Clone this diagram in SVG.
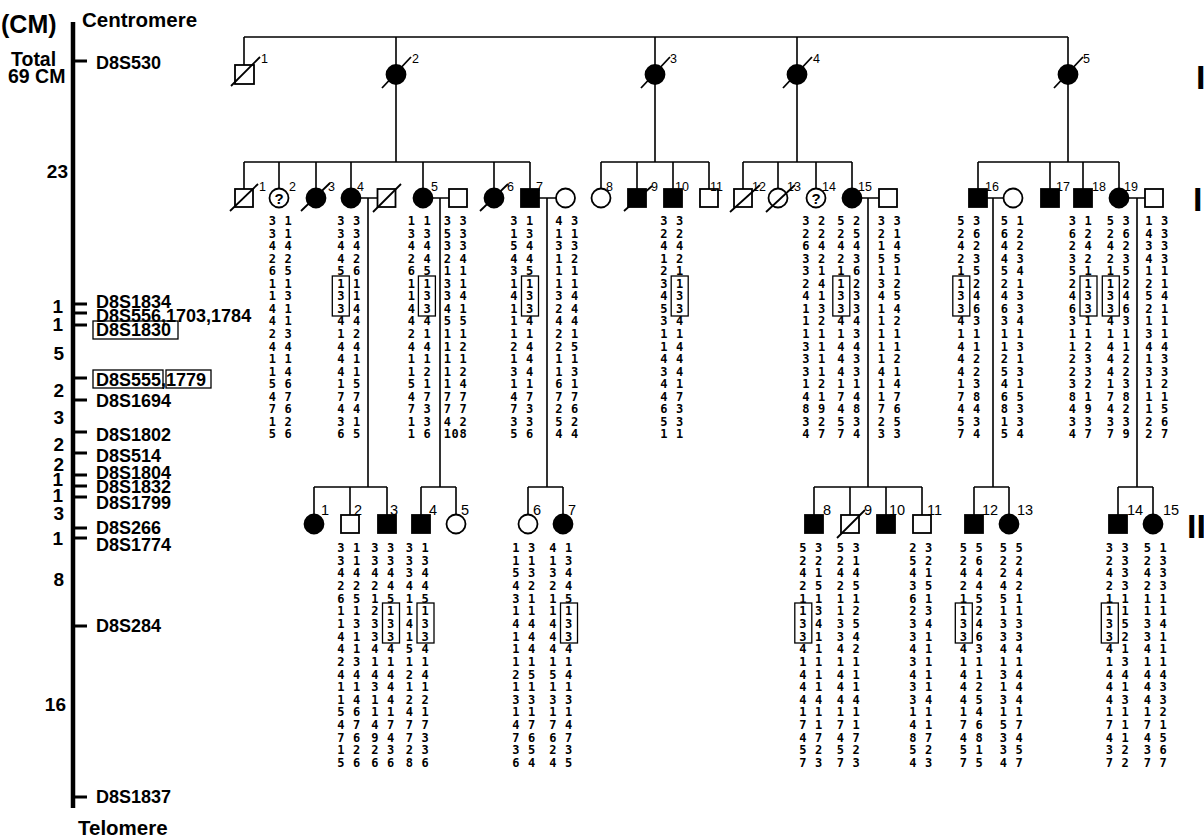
<svg xmlns="http://www.w3.org/2000/svg" width="1204" height="837" viewBox="0 0 1204 837">
<style>
.ln{stroke:#000;stroke-width:1.6;fill:none}
.o{fill:#fff;stroke:#000;stroke-width:1.8}
.f{fill:#000;stroke:#000;stroke-width:1.8}
.sl{stroke:#000;stroke-width:1.8}
.lb{font-family:"Liberation Sans",Arial,sans-serif;font-size:12.5px;fill:#000}
.l3{font-family:"Liberation Sans",Arial,sans-serif;font-size:14.5px;fill:#000}
.q{font-family:"Liberation Sans",Arial,sans-serif;font-size:15px;font-weight:bold;text-anchor:middle}
.h{font-family:"DejaVu Sans Mono",monospace;font-weight:bold;font-size:12px;letter-spacing:0.55px;text-anchor:middle;fill:#000}
.bx{fill:none;stroke:#000;stroke-width:1.3}
.ax{font-family:"Liberation Sans",Arial,sans-serif;font-weight:bold;font-size:18px;fill:#000}
.an{font-family:"Liberation Sans",Arial,sans-serif;font-weight:bold;font-size:19px;fill:#000;text-anchor:end}
.bg{font-family:"Liberation Sans",Arial,sans-serif;font-weight:bold;fill:#000}
.rn{font-family:"Liberation Sans",Arial,sans-serif;font-weight:bold;font-size:34px;fill:#000}
</style>
<rect width="1204" height="837" fill="#fff"/>

<g id="axis">
<line x1="73" y1="22" x2="73" y2="808" stroke="#000" stroke-width="4.5"/>
<path d="M73 61h14M73 304h14M73 313h14M73 325h14M73 378h14M73 400h14M73 432h14M73 453h14M73 475h14M73 486h14M73 497h14M73 528h14M73 538h14M73 626h14M73 797h14" stroke="#000" stroke-width="3"/>
<text class="bg" x="1" y="33" font-size="25">(CM)</text>
<text class="bg" x="82" y="27" font-size="20.5">Centromere</text>
<text class="bg" x="11" y="66" font-size="19.5">Total</text>
<text class="bg" x="8" y="83" font-size="19.5">69 CM</text>
<text class="bg" x="78" y="835" font-size="20.5">Telomere</text>
<text class="ax" x="96" y="69">D8S530</text>
<text class="ax" x="96" y="308">D8S1834</text>
<text class="ax" x="96" y="322">D8S556,1703,1784</text>
<text class="ax" x="96" y="336">D8S1830</text>
<rect class="bx" x="93" y="321" width="85" height="18"/>
<text class="ax" x="96" y="386">D8S555,1779</text>
<rect class="bx" x="93" y="370" width="70" height="18"/>
<rect class="bx" x="166" y="370" width="45" height="18"/>
<text class="ax" x="96" y="407">D8S1694</text>
<text class="ax" x="96" y="441">D8S1802</text>
<text class="ax" x="96" y="462">D8S514</text>
<text class="ax" x="96" y="479">D8S1804</text>
<text class="ax" x="96" y="493">D8S1832</text>
<text class="ax" x="96" y="509">D8S1799</text>
<text class="ax" x="96" y="534">D8S266</text>
<text class="ax" x="96" y="551">D8S1774</text>
<text class="ax" x="96" y="632">D8S284</text>
<text class="ax" x="96" y="803">D8S1837</text>
<text class="an" x="68" y="178">23</text>
<text class="an" x="63" y="313">1</text>
<text class="an" x="63" y="331">1</text>
<text class="an" x="64" y="360">5</text>
<text class="an" x="64" y="397">2</text>
<text class="an" x="64" y="424">3</text>
<text class="an" x="64" y="451">2</text>
<text class="an" x="64" y="471">2</text>
<text class="an" x="63" y="486">1</text>
<text class="an" x="63" y="502">1</text>
<text class="an" x="64" y="520">3</text>
<text class="an" x="63" y="545">1</text>
<text class="an" x="64" y="586">8</text>
<text class="an" x="66" y="711">16</text>
</g>

<g id="generations">
<text class="rn" x="1196" y="89">I</text>
<text class="rn" x="1193" y="211">I</text>
<text class="rn" x="1187" y="538">II</text>
</g>

<g id="connectors" class="ln">
<path d="M244 37H1068M244 37V65M396 37V65M655 37V65M797 37V65M1068 37V65M396 84V162M655 84V162M797 84V162M1068 84V162"/>
<path d="M244 162H530M601 162H709M743 162H852M978 162H1119"/>
<path d="M244 162V189M279 162V189M316 162V189M351 162V189M423 162V189M494 162V189M530 162V189M601 162V189M637 162V189M673 162V189M709 162V189M743 162V189M778 162V189M816 162V189M852 162V189M978 162V189M1050 162V189M1083 162V189M1119 162V189"/>
<path d="M360.5 198H377.5M432.5 198H449M539 198H556M861.5 198H879M987 198H1003.5M1128.5 198H1145"/>
<path d="M368 198V487M440 198V487M547 198V487M868 198V487M993 198V487M1137 198V487"/>
<path d="M314 487H387M421 487H456M528 487H563M814 487H922M974 487H1009M1118 487H1153"/>
<path d="M314 487V515M350 487V515M387 487V515M421 487V515M456 487V515M528 487V515M563 487V515M814 487V515M850 487V515M886 487V515M922 487V515M974 487V515M1009 487V515M1118 487V515M1153 487V515"/>
</g>

<g id="I-1"><rect class="o" x="235" y="65" width="19" height="19"/><line class="sl" x1="231" y1="86" x2="260" y2="57"/><text class="lb" x="261" y="63">1</text></g>
<g id="I-2"><circle class="f" cx="396" cy="74.5" r="9.5"/><line class="sl" x1="382" y1="88" x2="411" y2="57"/><text class="lb" x="412" y="63">2</text></g>
<g id="I-3"><circle class="f" cx="655" cy="74.5" r="9.5"/><line class="sl" x1="641" y1="88" x2="670" y2="57"/><text class="lb" x="670" y="63">3</text></g>
<g id="I-4"><circle class="f" cx="797" cy="74.5" r="9.5"/><line class="sl" x1="783" y1="88" x2="812" y2="57"/><text class="lb" x="813" y="63">4</text></g>
<g id="I-5"><circle class="f" cx="1068" cy="74.5" r="9.5"/><line class="sl" x1="1054" y1="88" x2="1083" y2="57"/><text class="lb" x="1083" y="63">5</text></g>

<g id="II-1"><rect class="o" x="235" y="189" width="18" height="18"/><line class="sl" x1="230" y1="211" x2="258" y2="184"/><text class="lb" x="259" y="191">1</text></g>
<g id="II-2"><circle class="o" cx="279" cy="198" r="9.5"/><text class="q" x="279" y="203.5">?</text><text class="lb" x="289" y="191">2</text>
<text class="h" y="212.45"><tspan x="280.5" dy="12.55">3 1</tspan><tspan x="280.5" dy="12.55">3 1</tspan><tspan x="280.5" dy="12.55">4 4</tspan><tspan x="280.5" dy="12.55">2 2</tspan><tspan x="280.5" dy="12.55">6 5</tspan><tspan x="280.5" dy="12.55">1 1</tspan><tspan x="280.5" dy="12.55">1 3</tspan><tspan x="280.5" dy="12.55">4 1</tspan><tspan x="280.5" dy="12.55">4 1</tspan><tspan x="280.5" dy="12.55">2 3</tspan><tspan x="280.5" dy="12.55">4 4</tspan><tspan x="280.5" dy="12.55">1 1</tspan><tspan x="280.5" dy="12.55">1 4</tspan><tspan x="280.5" dy="12.55">5 6</tspan><tspan x="280.5" dy="12.55">4 7</tspan><tspan x="280.5" dy="12.55">7 6</tspan><tspan x="280.5" dy="12.55">1 2</tspan><tspan x="280.5" dy="12.55">5 6</tspan></text></g>
<g id="II-3"><circle class="f" cx="316" cy="198" r="9.5"/><line class="sl" x1="301" y1="211" x2="330" y2="183"/><text class="lb" x="328" y="191">3</text></g>
<g id="II-4"><circle class="f" cx="351" cy="198" r="9.5"/><text class="lb" x="357" y="191">4</text>
<text class="h" y="212.45"><tspan x="349" dy="12.55">3 3</tspan><tspan x="349" dy="12.55">3 3</tspan><tspan x="349" dy="12.55">4 4</tspan><tspan x="349" dy="12.55">4 2</tspan><tspan x="349" dy="12.55">5 6</tspan><tspan x="349" dy="12.55">1 1</tspan><tspan x="349" dy="12.55">3 1</tspan><tspan x="349" dy="12.55">3 4</tspan><tspan x="349" dy="12.55">4 4</tspan><tspan x="349" dy="12.55">1 2</tspan><tspan x="349" dy="12.55">4 4</tspan><tspan x="349" dy="12.55">4 1</tspan><tspan x="349" dy="12.55">4 1</tspan><tspan x="349" dy="12.55">1 5</tspan><tspan x="349" dy="12.55">7 7</tspan><tspan x="349" dy="12.55">4 4</tspan><tspan x="349" dy="12.55">3 1</tspan><tspan x="349" dy="12.55">6 5</tspan></text>
<rect class="bx" x="332.3" y="276" width="17" height="40"/></g>
<g id="II-4s"><rect class="o" x="377.5" y="189" width="18" height="18"/><line class="sl" x1="373" y1="212" x2="401" y2="184"/></g>
<g id="II-5"><circle class="f" cx="423" cy="198" r="9.5"/><text class="lb" x="431" y="191">5</text>
<text class="h" y="212.45"><tspan x="419.5" dy="12.55">1 1</tspan><tspan x="419.5" dy="12.55">3 3</tspan><tspan x="419.5" dy="12.55">4 4</tspan><tspan x="419.5" dy="12.55">2 4</tspan><tspan x="419.5" dy="12.55">6 5</tspan><tspan x="419.5" dy="12.55">1 1</tspan><tspan x="419.5" dy="12.55">1 3</tspan><tspan x="419.5" dy="12.55">4 3</tspan><tspan x="419.5" dy="12.55">4 4</tspan><tspan x="419.5" dy="12.55">2 1</tspan><tspan x="419.5" dy="12.55">4 4</tspan><tspan x="419.5" dy="12.55">1 1</tspan><tspan x="419.5" dy="12.55">1 2</tspan><tspan x="419.5" dy="12.55">5 1</tspan><tspan x="419.5" dy="12.55">4 7</tspan><tspan x="419.5" dy="12.55">7 3</tspan><tspan x="419.5" dy="12.55">1 3</tspan><tspan x="419.5" dy="12.55">1 6</tspan></text>
<rect class="bx" x="418.4" y="276" width="17" height="40"/></g>
<g id="II-5s"><rect class="o" x="449" y="189" width="18" height="18"/>
<text class="h" y="212.45"><tspan x="455.5" dy="12.55">3 3</tspan><tspan x="455.5" dy="12.55">5 3</tspan><tspan x="455.5" dy="12.55">3 3</tspan><tspan x="455.5" dy="12.55">2 4</tspan><tspan x="455.5" dy="12.55">1 1</tspan><tspan x="455.5" dy="12.55">3 1</tspan><tspan x="455.5" dy="12.55">3 4</tspan><tspan x="455.5" dy="12.55">4 1</tspan><tspan x="455.5" dy="12.55">5 5</tspan><tspan x="455.5" dy="12.55">1 1</tspan><tspan x="455.5" dy="12.55">1 2</tspan><tspan x="455.5" dy="12.55">1 1</tspan><tspan x="455.5" dy="12.55">1 2</tspan><tspan x="455.5" dy="12.55">1 4</tspan><tspan x="455.5" dy="12.55">7 7</tspan><tspan x="455.5" dy="12.55">7 7</tspan><tspan x="455.5" dy="12.55">4 2</tspan><tspan x="455.5" dy="12.55">108</tspan></text></g>
<g id="II-6"><circle class="f" cx="494" cy="198" r="9.5"/><line class="sl" x1="480" y1="211" x2="508" y2="184"/><text class="lb" x="507" y="191">6</text></g>
<g id="II-7"><rect class="f" x="521" y="189" width="18" height="18"/><text class="lb" x="536" y="191">7</text>
<text class="h" y="212.45"><tspan x="522" dy="12.55">3 1</tspan><tspan x="522" dy="12.55">1 3</tspan><tspan x="522" dy="12.55">5 4</tspan><tspan x="522" dy="12.55">4 4</tspan><tspan x="522" dy="12.55">3 5</tspan><tspan x="522" dy="12.55">1 1</tspan><tspan x="522" dy="12.55">4 3</tspan><tspan x="522" dy="12.55">1 3</tspan><tspan x="522" dy="12.55">1 4</tspan><tspan x="522" dy="12.55">1 1</tspan><tspan x="522" dy="12.55">2 4</tspan><tspan x="522" dy="12.55">1 4</tspan><tspan x="522" dy="12.55">3 4</tspan><tspan x="522" dy="12.55">1 1</tspan><tspan x="522" dy="12.55">4 7</tspan><tspan x="522" dy="12.55">7 3</tspan><tspan x="522" dy="12.55">3 3</tspan><tspan x="522" dy="12.55">5 6</tspan></text>
<rect class="bx" x="521.5" y="276" width="17" height="40"/></g>
<g id="II-7s"><circle class="o" cx="565.5" cy="198" r="9.5"/>
<text class="h" y="212.45"><tspan x="567" dy="12.55">4 3</tspan><tspan x="567" dy="12.55">1 1</tspan><tspan x="567" dy="12.55">3 3</tspan><tspan x="567" dy="12.55">1 2</tspan><tspan x="567" dy="12.55">1 1</tspan><tspan x="567" dy="12.55">1 1</tspan><tspan x="567" dy="12.55">3 4</tspan><tspan x="567" dy="12.55">2 4</tspan><tspan x="567" dy="12.55">4 4</tspan><tspan x="567" dy="12.55">2 1</tspan><tspan x="567" dy="12.55">2 5</tspan><tspan x="567" dy="12.55">1 1</tspan><tspan x="567" dy="12.55">1 3</tspan><tspan x="567" dy="12.55">6 1</tspan><tspan x="567" dy="12.55">7 7</tspan><tspan x="567" dy="12.55">2 6</tspan><tspan x="567" dy="12.55">5 2</tspan><tspan x="567" dy="12.55">4 4</tspan></text></g>
<g id="II-8"><circle class="o" cx="601" cy="198" r="9.5"/><text class="lb" x="606" y="191">8</text></g>
<g id="II-9"><rect class="f" x="628" y="189" width="18" height="18"/><line class="sl" x1="624" y1="211" x2="652" y2="186"/><text class="lb" x="651" y="191">9</text></g>
<g id="II-10"><rect class="f" x="664" y="189" width="18" height="18"/><text class="lb" x="675" y="191">10</text>
<text class="h" y="212.45"><tspan x="672" dy="12.55">3 3</tspan><tspan x="672" dy="12.55">2 2</tspan><tspan x="672" dy="12.55">4 4</tspan><tspan x="672" dy="12.55">1 2</tspan><tspan x="672" dy="12.55">2 1</tspan><tspan x="672" dy="12.55">3 1</tspan><tspan x="672" dy="12.55">4 3</tspan><tspan x="672" dy="12.55">5 3</tspan><tspan x="672" dy="12.55">3 4</tspan><tspan x="672" dy="12.55">1 1</tspan><tspan x="672" dy="12.55">1 4</tspan><tspan x="672" dy="12.55">4 4</tspan><tspan x="672" dy="12.55">3 4</tspan><tspan x="672" dy="12.55">4 1</tspan><tspan x="672" dy="12.55">4 7</tspan><tspan x="672" dy="12.55">6 3</tspan><tspan x="672" dy="12.55">5 3</tspan><tspan x="672" dy="12.55">1 1</tspan></text>
<rect class="bx" x="671.2" y="276" width="17" height="40"/></g>
<g id="II-11"><rect class="o" x="700" y="189" width="18" height="18"/><text class="lb" x="710" y="191">11</text></g>
<g id="II-12"><rect class="o" x="734" y="189" width="18" height="18"/><line class="sl" x1="730" y1="212" x2="760" y2="185"/><text class="lb" x="752" y="191">12</text></g>
<g id="II-13"><circle class="o" cx="778" cy="198" r="9.5"/><line class="sl" x1="766" y1="212" x2="795" y2="185"/><text class="lb" x="787" y="191">13</text></g>
<g id="II-14"><circle class="o" cx="816" cy="198" r="9.5"/><text class="q" x="816" y="203.5">?</text><text class="lb" x="822" y="191">14</text>
<text class="h" y="212.45"><tspan x="814" dy="12.55">3 2</tspan><tspan x="814" dy="12.55">2 2</tspan><tspan x="814" dy="12.55">6 4</tspan><tspan x="814" dy="12.55">3 2</tspan><tspan x="814" dy="12.55">3 1</tspan><tspan x="814" dy="12.55">2 4</tspan><tspan x="814" dy="12.55">4 1</tspan><tspan x="814" dy="12.55">1 3</tspan><tspan x="814" dy="12.55">1 2</tspan><tspan x="814" dy="12.55">1 1</tspan><tspan x="814" dy="12.55">3 1</tspan><tspan x="814" dy="12.55">3 1</tspan><tspan x="814" dy="12.55">3 1</tspan><tspan x="814" dy="12.55">1 2</tspan><tspan x="814" dy="12.55">4 1</tspan><tspan x="814" dy="12.55">8 9</tspan><tspan x="814" dy="12.55">3 2</tspan><tspan x="814" dy="12.55">4 7</tspan></text></g>
<g id="II-15"><circle class="f" cx="852" cy="198" r="9.5"/><text class="lb" x="858" y="191">15</text>
<text class="h" y="212.45"><tspan x="849" dy="12.55">5 2</tspan><tspan x="849" dy="12.55">2 5</tspan><tspan x="849" dy="12.55">4 4</tspan><tspan x="849" dy="12.55">2 3</tspan><tspan x="849" dy="12.55">1 6</tspan><tspan x="849" dy="12.55">1 2</tspan><tspan x="849" dy="12.55">3 3</tspan><tspan x="849" dy="12.55">3 3</tspan><tspan x="849" dy="12.55">4 4</tspan><tspan x="849" dy="12.55">1 3</tspan><tspan x="849" dy="12.55">4 4</tspan><tspan x="849" dy="12.55">4 3</tspan><tspan x="849" dy="12.55">4 3</tspan><tspan x="849" dy="12.55">1 1</tspan><tspan x="849" dy="12.55">7 4</tspan><tspan x="849" dy="12.55">4 8</tspan><tspan x="849" dy="12.55">5 3</tspan><tspan x="849" dy="12.55">7 4</tspan></text>
<rect class="bx" x="832.8" y="276" width="17" height="40"/></g>
<g id="II-15s"><rect class="o" x="879" y="189" width="18" height="18"/>
<text class="h" y="212.45"><tspan x="889.5" dy="12.55">3 3</tspan><tspan x="889.5" dy="12.55">2 1</tspan><tspan x="889.5" dy="12.55">1 4</tspan><tspan x="889.5" dy="12.55">5 5</tspan><tspan x="889.5" dy="12.55">1 1</tspan><tspan x="889.5" dy="12.55">3 2</tspan><tspan x="889.5" dy="12.55">4 5</tspan><tspan x="889.5" dy="12.55">1 4</tspan><tspan x="889.5" dy="12.55">1 2</tspan><tspan x="889.5" dy="12.55">1 1</tspan><tspan x="889.5" dy="12.55">1 1</tspan><tspan x="889.5" dy="12.55">1 2</tspan><tspan x="889.5" dy="12.55">4 1</tspan><tspan x="889.5" dy="12.55">1 4</tspan><tspan x="889.5" dy="12.55">1 7</tspan><tspan x="889.5" dy="12.55">7 6</tspan><tspan x="889.5" dy="12.55">2 5</tspan><tspan x="889.5" dy="12.55">3 3</tspan></text></g>
<g id="II-16"><rect class="f" x="969" y="189" width="18" height="18"/><text class="lb" x="985" y="191">16</text>
<text class="h" y="212.45"><tspan x="969" dy="12.55">5 3</tspan><tspan x="969" dy="12.55">2 6</tspan><tspan x="969" dy="12.55">4 2</tspan><tspan x="969" dy="12.55">2 3</tspan><tspan x="969" dy="12.55">1 5</tspan><tspan x="969" dy="12.55">1 2</tspan><tspan x="969" dy="12.55">3 4</tspan><tspan x="969" dy="12.55">3 6</tspan><tspan x="969" dy="12.55">4 3</tspan><tspan x="969" dy="12.55">1 1</tspan><tspan x="969" dy="12.55">4 1</tspan><tspan x="969" dy="12.55">4 2</tspan><tspan x="969" dy="12.55">4 2</tspan><tspan x="969" dy="12.55">1 3</tspan><tspan x="969" dy="12.55">7 8</tspan><tspan x="969" dy="12.55">4 4</tspan><tspan x="969" dy="12.55">5 3</tspan><tspan x="969" dy="12.55">7 4</tspan></text>
<rect class="bx" x="952.8" y="276" width="17" height="40"/></g>
<g id="II-16s"><circle class="o" cx="1013" cy="198" r="9.5"/>
<text class="h" y="212.45"><tspan x="1012.5" dy="12.55">5 1</tspan><tspan x="1012.5" dy="12.55">6 2</tspan><tspan x="1012.5" dy="12.55">4 2</tspan><tspan x="1012.5" dy="12.55">4 3</tspan><tspan x="1012.5" dy="12.55">5 4</tspan><tspan x="1012.5" dy="12.55">2 1</tspan><tspan x="1012.5" dy="12.55">4 3</tspan><tspan x="1012.5" dy="12.55">6 3</tspan><tspan x="1012.5" dy="12.55">3 4</tspan><tspan x="1012.5" dy="12.55">1 1</tspan><tspan x="1012.5" dy="12.55">1 3</tspan><tspan x="1012.5" dy="12.55">2 1</tspan><tspan x="1012.5" dy="12.55">5 3</tspan><tspan x="1012.5" dy="12.55">4 1</tspan><tspan x="1012.5" dy="12.55">6 5</tspan><tspan x="1012.5" dy="12.55">8 3</tspan><tspan x="1012.5" dy="12.55">1 3</tspan><tspan x="1012.5" dy="12.55">5 4</tspan></text></g>
<g id="II-17"><rect class="f" x="1041" y="189" width="18" height="18"/><text class="lb" x="1056" y="191">17</text></g>
<g id="II-18"><rect class="f" x="1074" y="189" width="18" height="18"/><text class="lb" x="1092" y="191">18</text>
<text class="h" y="212.45"><tspan x="1080.5" dy="12.55">3 1</tspan><tspan x="1080.5" dy="12.55">6 2</tspan><tspan x="1080.5" dy="12.55">2 4</tspan><tspan x="1080.5" dy="12.55">3 2</tspan><tspan x="1080.5" dy="12.55">5 1</tspan><tspan x="1080.5" dy="12.55">2 1</tspan><tspan x="1080.5" dy="12.55">4 3</tspan><tspan x="1080.5" dy="12.55">6 3</tspan><tspan x="1080.5" dy="12.55">3 1</tspan><tspan x="1080.5" dy="12.55">1 1</tspan><tspan x="1080.5" dy="12.55">1 2</tspan><tspan x="1080.5" dy="12.55">2 3</tspan><tspan x="1080.5" dy="12.55">2 3</tspan><tspan x="1080.5" dy="12.55">3 2</tspan><tspan x="1080.5" dy="12.55">8 1</tspan><tspan x="1080.5" dy="12.55">4 9</tspan><tspan x="1080.5" dy="12.55">3 3</tspan><tspan x="1080.5" dy="12.55">4 7</tspan></text>
<rect class="bx" x="1080" y="276" width="17" height="40"/></g>
<g id="II-19"><circle class="f" cx="1119" cy="198" r="9.5"/><text class="lb" x="1124" y="191">19</text>
<text class="h" y="212.45"><tspan x="1118.5" dy="12.55">5 3</tspan><tspan x="1118.5" dy="12.55">2 6</tspan><tspan x="1118.5" dy="12.55">4 2</tspan><tspan x="1118.5" dy="12.55">2 3</tspan><tspan x="1118.5" dy="12.55">1 5</tspan><tspan x="1118.5" dy="12.55">1 2</tspan><tspan x="1118.5" dy="12.55">3 4</tspan><tspan x="1118.5" dy="12.55">3 6</tspan><tspan x="1118.5" dy="12.55">4 3</tspan><tspan x="1118.5" dy="12.55">1 1</tspan><tspan x="1118.5" dy="12.55">4 1</tspan><tspan x="1118.5" dy="12.55">4 2</tspan><tspan x="1118.5" dy="12.55">4 2</tspan><tspan x="1118.5" dy="12.55">1 3</tspan><tspan x="1118.5" dy="12.55">7 8</tspan><tspan x="1118.5" dy="12.55">4 2</tspan><tspan x="1118.5" dy="12.55">3 3</tspan><tspan x="1118.5" dy="12.55">7 9</tspan></text>
<rect class="bx" x="1102.3" y="276" width="17" height="40"/></g>
<g id="II-19s"><rect class="o" x="1145" y="189" width="18" height="18"/>
<text class="h" y="212.45"><tspan x="1157" dy="12.55">1 3</tspan><tspan x="1157" dy="12.55">4 3</tspan><tspan x="1157" dy="12.55">3 3</tspan><tspan x="1157" dy="12.55">4 3</tspan><tspan x="1157" dy="12.55">1 1</tspan><tspan x="1157" dy="12.55">2 1</tspan><tspan x="1157" dy="12.55">5 4</tspan><tspan x="1157" dy="12.55">2 1</tspan><tspan x="1157" dy="12.55">1 1</tspan><tspan x="1157" dy="12.55">3 1</tspan><tspan x="1157" dy="12.55">4 4</tspan><tspan x="1157" dy="12.55">1 3</tspan><tspan x="1157" dy="12.55">3 3</tspan><tspan x="1157" dy="12.55">1 2</tspan><tspan x="1157" dy="12.55">1 1</tspan><tspan x="1157" dy="12.55">1 5</tspan><tspan x="1157" dy="12.55">2 6</tspan><tspan x="1157" dy="12.55">2 7</tspan></text></g>

<g id="III-1"><circle class="f" cx="314" cy="524" r="9.5"/><text class="l3" x="321" y="515">1</text></g>
<g id="III-2"><rect class="o" x="341" y="515" width="18" height="18"/><text class="l3" x="354" y="515">2</text>
<text class="h" y="539.35"><tspan x="349" dy="12.65">3 1</tspan><tspan x="349" dy="12.65">3 1</tspan><tspan x="349" dy="12.65">4 4</tspan><tspan x="349" dy="12.65">2 2</tspan><tspan x="349" dy="12.65">6 5</tspan><tspan x="349" dy="12.65">1 1</tspan><tspan x="349" dy="12.65">1 3</tspan><tspan x="349" dy="12.65">4 1</tspan><tspan x="349" dy="12.65">4 1</tspan><tspan x="349" dy="12.65">2 3</tspan><tspan x="349" dy="12.65">4 4</tspan><tspan x="349" dy="12.65">1 1</tspan><tspan x="349" dy="12.65">1 4</tspan><tspan x="349" dy="12.65">5 6</tspan><tspan x="349" dy="12.65">4 7</tspan><tspan x="349" dy="12.65">7 6</tspan><tspan x="349" dy="12.65">1 2</tspan><tspan x="349" dy="12.65">5 6</tspan></text></g>
<g id="III-3"><rect class="f" x="378" y="515" width="18" height="18"/><text class="l3" x="390" y="515">3</text>
<text class="h" y="539.35"><tspan x="383" dy="12.65">3 3</tspan><tspan x="383" dy="12.65">3 3</tspan><tspan x="383" dy="12.65">4 4</tspan><tspan x="383" dy="12.65">2 4</tspan><tspan x="383" dy="12.65">1 5</tspan><tspan x="383" dy="12.65">2 1</tspan><tspan x="383" dy="12.65">3 3</tspan><tspan x="383" dy="12.65">3 3</tspan><tspan x="383" dy="12.65">4 4</tspan><tspan x="383" dy="12.65">1 1</tspan><tspan x="383" dy="12.65">4 4</tspan><tspan x="383" dy="12.65">3 4</tspan><tspan x="383" dy="12.65">1 4</tspan><tspan x="383" dy="12.65">1 1</tspan><tspan x="383" dy="12.65">4 7</tspan><tspan x="383" dy="12.65">9 4</tspan><tspan x="383" dy="12.65">2 3</tspan><tspan x="383" dy="12.65">6 6</tspan></text>
<rect class="bx" x="382.5" y="603" width="17" height="40"/></g>
<g id="III-4"><rect class="f" x="412" y="515" width="18" height="18"/><text class="l3" x="429" y="515">4</text>
<text class="h" y="539.35"><tspan x="417.5" dy="12.65">3 1</tspan><tspan x="417.5" dy="12.65">3 3</tspan><tspan x="417.5" dy="12.65">3 4</tspan><tspan x="417.5" dy="12.65">4 4</tspan><tspan x="417.5" dy="12.65">1 5</tspan><tspan x="417.5" dy="12.65">1 1</tspan><tspan x="417.5" dy="12.65">4 3</tspan><tspan x="417.5" dy="12.65">1 3</tspan><tspan x="417.5" dy="12.65">5 4</tspan><tspan x="417.5" dy="12.65">1 1</tspan><tspan x="417.5" dy="12.65">2 4</tspan><tspan x="417.5" dy="12.65">1 1</tspan><tspan x="417.5" dy="12.65">2 2</tspan><tspan x="417.5" dy="12.65">4 1</tspan><tspan x="417.5" dy="12.65">7 7</tspan><tspan x="417.5" dy="12.65">7 3</tspan><tspan x="417.5" dy="12.65">2 3</tspan><tspan x="417.5" dy="12.65">8 6</tspan></text>
<rect class="bx" x="417" y="603" width="17" height="40"/></g>
<g id="III-5"><circle class="o" cx="456" cy="524" r="9.5"/><text class="l3" x="461" y="515">5</text></g>
<g id="III-6"><circle class="o" cx="528" cy="524" r="9.5"/><text class="l3" x="533" y="515">6</text>
<text class="h" y="539.35"><tspan x="524" dy="12.65">1 3</tspan><tspan x="524" dy="12.65">1 1</tspan><tspan x="524" dy="12.65">5 3</tspan><tspan x="524" dy="12.65">4 2</tspan><tspan x="524" dy="12.65">3 1</tspan><tspan x="524" dy="12.65">1 1</tspan><tspan x="524" dy="12.65">4 4</tspan><tspan x="524" dy="12.65">1 4</tspan><tspan x="524" dy="12.65">1 4</tspan><tspan x="524" dy="12.65">1 1</tspan><tspan x="524" dy="12.65">2 5</tspan><tspan x="524" dy="12.65">1 1</tspan><tspan x="524" dy="12.65">3 3</tspan><tspan x="524" dy="12.65">1 1</tspan><tspan x="524" dy="12.65">4 7</tspan><tspan x="524" dy="12.65">7 6</tspan><tspan x="524" dy="12.65">3 5</tspan><tspan x="524" dy="12.65">6 4</tspan></text></g>
<g id="III-7"><circle class="f" cx="563" cy="524" r="9.5"/><text class="l3" x="568" y="515">7</text>
<text class="h" y="539.35"><tspan x="561" dy="12.65">4 1</tspan><tspan x="561" dy="12.65">1 3</tspan><tspan x="561" dy="12.65">3 4</tspan><tspan x="561" dy="12.65">2 4</tspan><tspan x="561" dy="12.65">1 5</tspan><tspan x="561" dy="12.65">1 1</tspan><tspan x="561" dy="12.65">4 3</tspan><tspan x="561" dy="12.65">4 3</tspan><tspan x="561" dy="12.65">4 4</tspan><tspan x="561" dy="12.65">1 1</tspan><tspan x="561" dy="12.65">5 4</tspan><tspan x="561" dy="12.65">1 1</tspan><tspan x="561" dy="12.65">3 3</tspan><tspan x="561" dy="12.65">1 1</tspan><tspan x="561" dy="12.65">7 4</tspan><tspan x="561" dy="12.65">6 7</tspan><tspan x="561" dy="12.65">2 3</tspan><tspan x="561" dy="12.65">4 5</tspan></text>
<rect class="bx" x="560.5" y="603" width="17" height="40"/></g>
<g id="III-8"><rect class="f" x="805" y="515" width="18" height="18"/><text class="l3" x="823" y="515">8</text>
<text class="h" y="539.35"><tspan x="811" dy="12.65">5 3</tspan><tspan x="811" dy="12.65">2 2</tspan><tspan x="811" dy="12.65">4 1</tspan><tspan x="811" dy="12.65">2 5</tspan><tspan x="811" dy="12.65">1 1</tspan><tspan x="811" dy="12.65">1 3</tspan><tspan x="811" dy="12.65">3 4</tspan><tspan x="811" dy="12.65">3 1</tspan><tspan x="811" dy="12.65">4 1</tspan><tspan x="811" dy="12.65">1 1</tspan><tspan x="811" dy="12.65">4 1</tspan><tspan x="811" dy="12.65">4 1</tspan><tspan x="811" dy="12.65">4 4</tspan><tspan x="811" dy="12.65">1 1</tspan><tspan x="811" dy="12.65">7 1</tspan><tspan x="811" dy="12.65">4 7</tspan><tspan x="811" dy="12.65">5 2</tspan><tspan x="811" dy="12.65">7 3</tspan></text>
<rect class="bx" x="794.8" y="603" width="17" height="40"/></g>
<g id="III-9"><rect class="o" x="841" y="515" width="18" height="18"/><line class="sl" x1="837" y1="538" x2="865" y2="510"/><text class="l3" x="864" y="515">9</text>
<text class="h" y="539.35"><tspan x="848.5" dy="12.65">5 3</tspan><tspan x="848.5" dy="12.65">2 1</tspan><tspan x="848.5" dy="12.65">4 4</tspan><tspan x="848.5" dy="12.65">2 5</tspan><tspan x="848.5" dy="12.65">1 1</tspan><tspan x="848.5" dy="12.65">1 2</tspan><tspan x="848.5" dy="12.65">3 5</tspan><tspan x="848.5" dy="12.65">3 4</tspan><tspan x="848.5" dy="12.65">4 2</tspan><tspan x="848.5" dy="12.65">1 1</tspan><tspan x="848.5" dy="12.65">4 1</tspan><tspan x="848.5" dy="12.65">4 1</tspan><tspan x="848.5" dy="12.65">4 4</tspan><tspan x="848.5" dy="12.65">1 1</tspan><tspan x="848.5" dy="12.65">7 1</tspan><tspan x="848.5" dy="12.65">4 7</tspan><tspan x="848.5" dy="12.65">5 2</tspan><tspan x="848.5" dy="12.65">7 3</tspan></text></g>
<g id="III-10"><rect class="f" x="877" y="515" width="18" height="18"/><text class="l3" x="889" y="515">10</text></g>
<g id="III-11"><rect class="o" x="913" y="515" width="18" height="18"/><text class="l3" x="927" y="515">11</text>
<text class="h" y="539.35"><tspan x="921" dy="12.65">2 3</tspan><tspan x="921" dy="12.65">5 2</tspan><tspan x="921" dy="12.65">4 1</tspan><tspan x="921" dy="12.65">3 5</tspan><tspan x="921" dy="12.65">6 1</tspan><tspan x="921" dy="12.65">2 3</tspan><tspan x="921" dy="12.65">3 4</tspan><tspan x="921" dy="12.65">3 1</tspan><tspan x="921" dy="12.65">4 1</tspan><tspan x="921" dy="12.65">3 1</tspan><tspan x="921" dy="12.65">4 1</tspan><tspan x="921" dy="12.65">3 1</tspan><tspan x="921" dy="12.65">3 4</tspan><tspan x="921" dy="12.65">1 1</tspan><tspan x="921" dy="12.65">4 1</tspan><tspan x="921" dy="12.65">8 7</tspan><tspan x="921" dy="12.65">5 2</tspan><tspan x="921" dy="12.65">4 3</tspan></text></g>
<g id="III-12"><rect class="f" x="965" y="515" width="18" height="18"/><text class="l3" x="982" y="515">12</text>
<text class="h" y="539.35"><tspan x="971.5" dy="12.65">5 5</tspan><tspan x="971.5" dy="12.65">2 6</tspan><tspan x="971.5" dy="12.65">4 4</tspan><tspan x="971.5" dy="12.65">2 4</tspan><tspan x="971.5" dy="12.65">1 5</tspan><tspan x="971.5" dy="12.65">1 2</tspan><tspan x="971.5" dy="12.65">3 4</tspan><tspan x="971.5" dy="12.65">3 6</tspan><tspan x="971.5" dy="12.65">4 3</tspan><tspan x="971.5" dy="12.65">1 1</tspan><tspan x="971.5" dy="12.65">4 1</tspan><tspan x="971.5" dy="12.65">4 2</tspan><tspan x="971.5" dy="12.65">4 5</tspan><tspan x="971.5" dy="12.65">1 4</tspan><tspan x="971.5" dy="12.65">7 6</tspan><tspan x="971.5" dy="12.65">4 8</tspan><tspan x="971.5" dy="12.65">5 1</tspan><tspan x="971.5" dy="12.65">7 5</tspan></text>
<rect class="bx" x="955.3" y="603" width="17" height="40"/></g>
<g id="III-13"><circle class="f" cx="1009" cy="524" r="9.5"/><text class="l3" x="1017" y="515">13</text>
<text class="h" y="539.35"><tspan x="1011.5" dy="12.65">5 5</tspan><tspan x="1011.5" dy="12.65">2 2</tspan><tspan x="1011.5" dy="12.65">2 4</tspan><tspan x="1011.5" dy="12.65">4 2</tspan><tspan x="1011.5" dy="12.65">5 1</tspan><tspan x="1011.5" dy="12.65">1 1</tspan><tspan x="1011.5" dy="12.65">3 3</tspan><tspan x="1011.5" dy="12.65">3 3</tspan><tspan x="1011.5" dy="12.65">4 4</tspan><tspan x="1011.5" dy="12.65">1 1</tspan><tspan x="1011.5" dy="12.65">3 4</tspan><tspan x="1011.5" dy="12.65">1 4</tspan><tspan x="1011.5" dy="12.65">3 4</tspan><tspan x="1011.5" dy="12.65">1 1</tspan><tspan x="1011.5" dy="12.65">5 7</tspan><tspan x="1011.5" dy="12.65">3 4</tspan><tspan x="1011.5" dy="12.65">3 5</tspan><tspan x="1011.5" dy="12.65">4 7</tspan></text></g>
<g id="III-14"><rect class="f" x="1109" y="515" width="18" height="18"/><text class="l3" x="1127" y="515">14</text>
<text class="h" y="539.35"><tspan x="1117.5" dy="12.65">3 3</tspan><tspan x="1117.5" dy="12.65">2 3</tspan><tspan x="1117.5" dy="12.65">4 3</tspan><tspan x="1117.5" dy="12.65">2 3</tspan><tspan x="1117.5" dy="12.65">1 1</tspan><tspan x="1117.5" dy="12.65">1 1</tspan><tspan x="1117.5" dy="12.65">3 5</tspan><tspan x="1117.5" dy="12.65">3 2</tspan><tspan x="1117.5" dy="12.65">4 1</tspan><tspan x="1117.5" dy="12.65">1 3</tspan><tspan x="1117.5" dy="12.65">4 4</tspan><tspan x="1117.5" dy="12.65">4 1</tspan><tspan x="1117.5" dy="12.65">4 3</tspan><tspan x="1117.5" dy="12.65">1 1</tspan><tspan x="1117.5" dy="12.65">7 1</tspan><tspan x="1117.5" dy="12.65">4 1</tspan><tspan x="1117.5" dy="12.65">3 2</tspan><tspan x="1117.5" dy="12.65">7 2</tspan></text>
<rect class="bx" x="1101.3" y="603" width="17" height="40"/></g>
<g id="III-15"><circle class="f" cx="1153" cy="524" r="9.5"/><text class="l3" x="1163" y="515">15</text>
<text class="h" y="539.35"><tspan x="1155.5" dy="12.65">5 1</tspan><tspan x="1155.5" dy="12.65">2 3</tspan><tspan x="1155.5" dy="12.65">4 3</tspan><tspan x="1155.5" dy="12.65">2 3</tspan><tspan x="1155.5" dy="12.65">1 1</tspan><tspan x="1155.5" dy="12.65">1 1</tspan><tspan x="1155.5" dy="12.65">3 4</tspan><tspan x="1155.5" dy="12.65">3 1</tspan><tspan x="1155.5" dy="12.65">4 1</tspan><tspan x="1155.5" dy="12.65">1 1</tspan><tspan x="1155.5" dy="12.65">4 4</tspan><tspan x="1155.5" dy="12.65">4 3</tspan><tspan x="1155.5" dy="12.65">4 3</tspan><tspan x="1155.5" dy="12.65">1 2</tspan><tspan x="1155.5" dy="12.65">7 1</tspan><tspan x="1155.5" dy="12.65">4 5</tspan><tspan x="1155.5" dy="12.65">3 6</tspan><tspan x="1155.5" dy="12.65">7 7</tspan></text></g>
</svg>
